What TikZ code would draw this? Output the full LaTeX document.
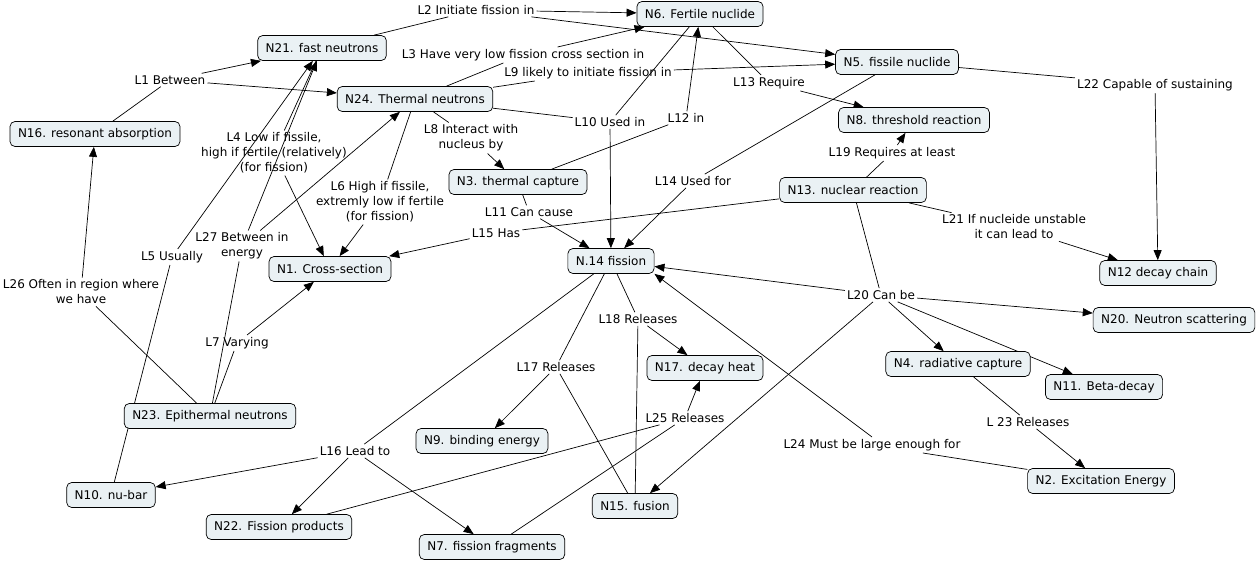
\documentclass[tikz,border=0pt]{standalone}
\usepackage{fontspec}
\setmainfont{DejaVu Sans}
\usetikzlibrary{arrows.meta,backgrounds}
\definecolor{boxfill}{RGB}{234,241,244}
\begin{document}
\begin{tikzpicture}[x=1pt,y=-1pt,
  concept/.style={draw, line width=0.7pt, rounded corners=5pt, fill=boxfill,
    inner xsep=8pt, inner ysep=2pt, minimum height=25pt,
    font=\fontsize{12}{15}\selectfont},
  lab/.style={inner sep=2pt, align=center, font=\fontsize{12}{15}\selectfont},
  link/.style={line width=0.7pt},
  arr/.style={line width=0.7pt, -{Triangle[length=10pt,width=8pt]}}]
\useasboundingbox (0,0) rectangle (1256,562);
% concepts
\node[concept] (N6) at (700,14) {N6. Fertile nuclide};
\node[concept] (N21) at (322,48) {N21. fast neutrons};
\node[concept] (N5) at (897,62) {N5. fissile nuclide};
\node[concept] (N24) at (415,99) {N24. Thermal neutrons};
\node[concept] (N16) at (95,134) {N16. resonant absorption};
\node[concept] (N8) at (914,120) {N8. threshold reaction};
\node[concept] (N3) at (518,182) {N3. thermal capture};
\node[concept] (N13) at (853,190) {N13. nuclear reaction};
\node[concept] (N1) at (330,269) {N1. Cross-section};
\node[concept] (N14) at (611,261) {N.14 fission};
\node[concept] (N12) at (1158,273) {N12 decay chain};
\node[concept] (N20) at (1174,320) {N20. Neutron scattering};
\node[concept] (N17) at (705,368) {N17. decay heat};
\node[concept] (N4) at (958,364) {N4. radiative capture};
\node[concept] (N11) at (1104,387) {N11. Beta-decay};
\node[concept] (N23) at (210,416) {N23. Epithermal neutrons};
\node[concept] (N9) at (482,441) {N9. binding energy};
\node[concept] (N2) at (1101,481) {N2. Excitation Energy};
\node[concept] (N10) at (111,495) {N10. nu-bar};
\node[concept] (N15) at (635,506) {N15. fusion};
\node[concept] (N22) at (279,527) {N22. Fission products};
\node[concept] (N7) at (492,547) {N7. fission fragments};
% linking phrases
\node[lab] (L1) at (170,80) {L1 Between};
\node[lab] (L2) at (476,10) {L2 Initiate fission in};
\node[lab] (L3) at (523,55) {L3 Have very low fission cross section in};
\node[lab] (L9) at (588,73) {L9 likely to initiate fission in};
\node[lab] (L10) at (610,122) {L10 Used in};
\node[lab] (L12) at (686,118) {L12 in};
\node[lab] (L13) at (769,83) {L13 Require};
\node[lab] (L22) at (1155,85) {L22 Capable of sustaining};
\node[lab] (L8) at (471,138) {L8 Interact with\\nucleus by};
\node[lab] (L4) at (274,153) {L4 Low if fissile,\\high if fertile (relatively)\\(for fission)};
\node[lab] (L19) at (892,153) {L19 Requires at least};
\node[lab] (L14) at (693,181) {L14 Used for};
\node[lab] (L6) at (380,202) {L6 High if fissile,\\extremly low if fertile\\(for fission)};
\node[lab] (L11) at (529,212) {L11 Can cause};
\node[lab] (L21) at (1014,227) {L21 If nucleide unstable\\it can lead to};
\node[lab] (L15) at (496,233) {L15 Has};
\node[lab] (L27) at (242,246) {L27 Between in\\energy};
\node[lab] (L5) at (172,257) {L5 Usually};
\node[lab] (L26) at (81,292) {L26 Often in region where\\we have};
\node[lab] (L20) at (881,295) {L20 Can be};
\node[lab] (L18) at (638,319) {L18 Releases};
\node[lab] (L7) at (237,343) {L7 Varying};
\node[lab] (L17) at (556,367) {L17 Releases};
\node[lab] (L25) at (685,418) {L25 Releases};
\node[lab] (L23) at (1028,422) {L 23 Releases};
\node[lab] (L24) at (872,445) {L24 Must be large enough for};
\node[lab] (L16) at (355,451) {L16 Lead to};
% connectors
\begin{scope}[on background layer]
\draw[link] (N16) -- (L1);
\draw[arr] (L1) -- (N21);
\draw[arr] (L1) -- (N24);
\draw[link] (N21) -- (L2);
\draw[arr] (L2) -- (N6);
\draw[arr] (L2) -- (N5);
\draw[link] (N24) -- (L3);
\draw[arr] (L3) -- (N6);
\draw[link] (N24) -- (L9);
\draw[arr] (L9) -- (N5);
\draw[link] (N24) -- (L10);
\draw[link] (N6) -- (L10);
\draw[arr] (L10) -- (N14);
\draw[link] (N3) -- (L12);
\draw[arr] (L12) -- (N6);
\draw[link] (N6) -- (L13);
\draw[arr] (L13) -- (N8);
\draw[link] (N5) -- (L22);
\draw[arr] (L22) -- (N12);
\draw[link] (N24) -- (L8);
\draw[arr] (L8) -- (N3);
\draw[link] (N21) -- (L4);
\draw[arr] (L4) -- (N1);
\draw[link] (N24) -- (L6);
\draw[arr] (L6) -- (N1);
\draw[link] (N23) -- (L7);
\draw[arr] (L7) -- (N1);
\draw[link] (N13) -- (L15);
\draw[arr] (L15) -- (N1);
\draw[link] (N3) -- (L11);
\draw[arr] (L11) -- (N14);
\draw[link] (N5) -- (L14);
\draw[arr] (L14) -- (N14);
\draw[link] (N13) -- (L19);
\draw[arr] (L19) -- (N8);
\draw[link] (N13) -- (L21);
\draw[arr] (L21) -- (N12);
\draw[link] (N13) -- (L20);
\draw[arr] (L20) -- (N14);
\draw[arr] (L20) -- (N20);
\draw[arr] (L20) -- (N4);
\draw[arr] (L20) -- (N11);
\draw[arr] (L20) -- (N15);
\draw[link] (N2) -- (L24);
\draw[arr] (L24.north) -- (N14.south east);
\draw[link] (N4) -- (L23);
\draw[arr] (L23) -- (N2);
\draw[link] (N14) -- (L18);
\draw[link] (N15) -- (L18);
\draw[arr] (L18) -- (N17);
\draw[link] (N14) -- (L17);
\draw[link] (N15) -- (L17);
\draw[arr] (L17) -- (N9);
\draw[link] (N14) -- (L16);
\draw[arr] (L16) -- (N10);
\draw[arr] (L16) -- (N22);
\draw[arr] (L16) -- (N7);
\draw[link] (N22) -- (L25);
\draw[link] (N7) -- (L25);
\draw[arr] (L25) -- (N17);
\draw[link] (N23) -- (L27);
\draw[arr] (L27) -- (N21);
\draw[arr] (L27) -- (N24);
\draw[link] (N10) -- (L5);
\draw[arr] (L5) -- (N21);
\draw[link] (N23) -- (L26);
\draw[arr] (L26) -- (N16);
\end{scope}
\end{tikzpicture}
\end{document}
